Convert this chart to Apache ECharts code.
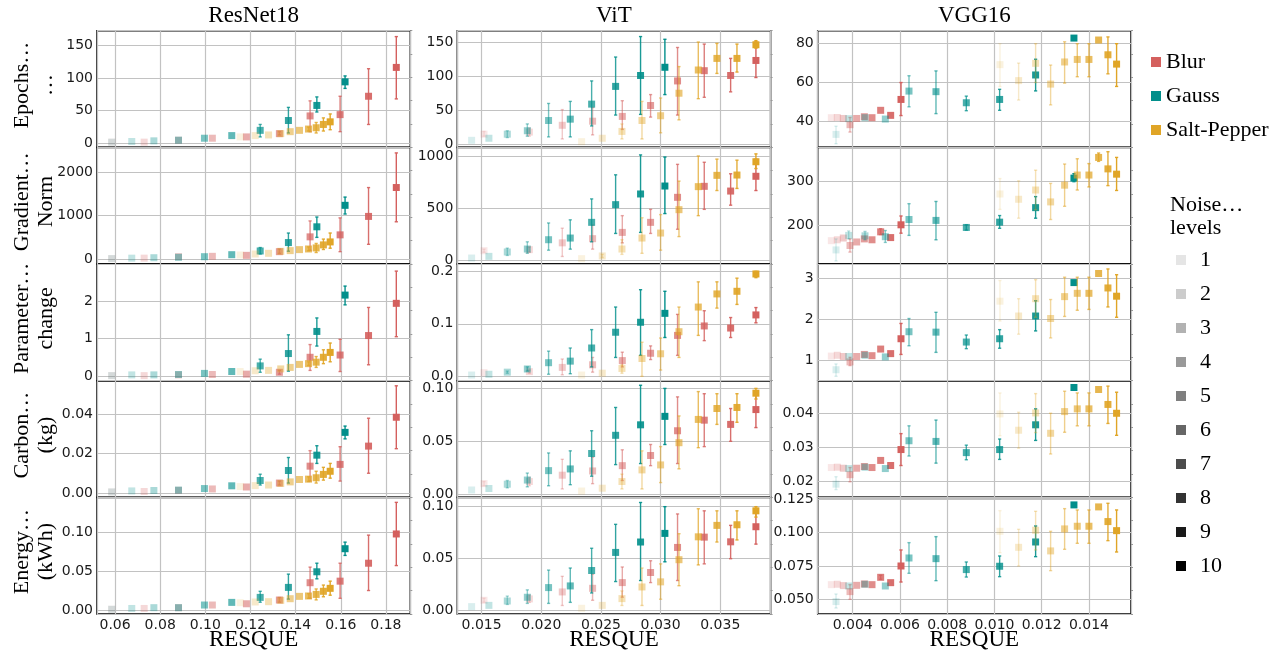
<!DOCTYPE html>
<html>
<head>
<meta charset="utf-8">
<title>RESQUE vs training cost</title>
<script src="https://cdn.jsdelivr.net/npm/echarts@6/dist/echarts.min.js"></script>
<style>
  html, body { margin: 0; padding: 0; background: #fff; }
  #chart { width: 1286px; height: 656px; }
</style>
</head>
<body>
<div id="chart"></div>
<script>
// labels
const models = ["ResNet18", "ViT", "VGG16"];
const metrics = ["Epochs…\n…", "Gradient…\nNorm", "Parameter…\nchange", "Carbon…\n(kg)", "Energy…\n(kWh)"];
const noiseTypes = ["Blur", "Gauss", "Salt-Pepper"];
const noiseLevels = ["1", "2", "3", "4", "5", "6", "7", "8", "9", "10"];

// RESQUE (x) per model and noise type, ordered by noise level 1..10
const rnXBlur = [0.0585, 0.0729, 0.0881, 0.1031, 0.1182, 0.1328, 0.1464, 0.1597, 0.1723, 0.1846];
const rnXGauss = [0.0585, 0.0674, 0.0772, 0.0881, 0.0996, 0.1117, 0.1243, 0.1368, 0.1494, 0.1619];
const rnXSalt = [0.1154, 0.1221, 0.128, 0.1334, 0.1376, 0.1417, 0.1457, 0.1491, 0.1523, 0.1553];
const vtXBlur = [0.0152, 0.019, 0.02176, 0.0243, 0.02679, 0.02916, 0.03142, 0.03366, 0.03587, 0.03799];
const vtXGauss = [0.01416, 0.01561, 0.01715, 0.01883, 0.02061, 0.02243, 0.02422, 0.02623, 0.02832, 0.03036];
const vtXSalt = [0.02338, 0.02511, 0.02676, 0.02844, 0.03, 0.03154, 0.03316, 0.03472, 0.0364, 0.03799];
const vgXBlur = [0.003097, 0.003351, 0.003605, 0.003887, 0.004169, 0.004494, 0.004818, 0.005185, 0.005608, 0.006045];
const vgXGauss = [0.003295, 0.003831, 0.004522, 0.005382, 0.006384, 0.007526, 0.00881, 0.01022, 0.011743, 0.013365];
const vgXSalt = [0.010234, 0.011024, 0.011743, 0.012378, 0.01297, 0.013506, 0.014, 0.014409, 0.014804, 0.01517];

// metric values: [mean, low, high]  (low/high omitted when no visible bar)
// ResNet18
const rnEpochsBlur = [[2], [2], [5], [8], [10], [15, 13, 18], [42, 18, 65], [44, 18, 72], [72, 29, 114], [116, 68, 163]];
const rnEpochsGauss = [[2], [3], [4], [5], [8], [12], [20, 10, 29], [35, 16, 55], [58, 48, 71], [94, 84, 103]];
const rnEpochsSalt = [[10], [12], [13], [15], [18], [20], [22, 19, 25], [24, 16, 32], [29, 19, 39], [33, 21, 45]];
const rnGradBlur = [[10], [20], [55], [62], [85], [170, 130, 230], [512, 200, 880], [558, 170, 950], [984, 340, 1650], [1651, 860, 2450]];
const rnGradGauss = [[10], [20], [30], [40], [54], [100], [186, 116, 265], [380, 180, 600], [744, 500, 970], [1240, 1040, 1430]];
const rnGradSalt = [[93], [116], [132], [178], [194], [217], [232, 190, 280], [256, 150, 360], [326, 220, 460], [395, 250, 600]];
const rnParamBlur = [[0.01], [0.01], [0.03], [0.04], [0.05], [0.1, 0.05, 0.15], [0.5, 0.15, 0.84], [0.56, 0.12, 0.98], [1.08, 0.3, 1.83], [1.94, 1.05, 2.8]];
const rnParamGauss = [[0.01], [0.03], [0.03], [0.04], [0.07], [0.12], [0.27, 0.1, 0.45], [0.6, 0.13, 1.1], [1.19, 0.8, 1.55], [2.16, 1.9, 2.4]];
const rnParamSalt = [[0.12], [0.14], [0.15], [0.19], [0.23], [0.31], [0.33, 0.28, 0.38], [0.37, 0.23, 0.52], [0.5, 0.33, 0.7], [0.63, 0.38, 0.88]];
const rnCarbonBlur = [[0.0005], [0.0007], [0.0013], [0.002], [0.003], [0.005, 0.004, 0.006], [0.0136, 0.006, 0.0215], [0.0145, 0.006, 0.0235], [0.0238, 0.01, 0.038], [0.0385, 0.0225, 0.0545]];
const rnCarbonGauss = [[0.0005], [0.001], [0.0012], [0.0014], [0.0022], [0.0036], [0.0063, 0.004, 0.0095], [0.0114, 0.005, 0.018], [0.0192, 0.015, 0.024], [0.0308, 0.0275, 0.034]];
const rnCarbonSalt = [[0.0032], [0.0037], [0.004], [0.0048], [0.0056], [0.0068], [0.007, 0.0058, 0.0082], [0.0077, 0.005, 0.011], [0.0094, 0.0065, 0.013], [0.011, 0.0075, 0.015]];
const rnEnergyBlur = [[0.001], [0.002], [0.003], [0.0064], [0.008], [0.0128, 0.01, 0.016], [0.035, 0.015, 0.055], [0.037, 0.015, 0.06], [0.06, 0.025, 0.096], [0.0975, 0.057, 0.138]];
const rnEnergyGauss = [[0.001], [0.002], [0.003], [0.003], [0.0064], [0.0098], [0.0162, 0.01, 0.024], [0.029, 0.014, 0.046], [0.049, 0.04, 0.06], [0.0786, 0.07, 0.087]];
const rnEnergySalt = [[0.0094], [0.0103], [0.0107], [0.0124], [0.0145], [0.0175], [0.018, 0.015, 0.021], [0.02, 0.013, 0.027], [0.024, 0.017, 0.032], [0.0278, 0.019, 0.037]];
// ViT
const vtEpochsBlur = [[15, 12, 19], [18, 12, 24], [28, 8, 51], [34, 14, 54], [41, 22, 64], [57, 40, 73], [93, 43, 142], [108, 69, 147], [101, 77, 126], [123, 98, 150]];
const vtEpochsGauss = [[6], [9], [15, 10, 20], [20, 12, 30], [35, 11, 60], [37, 11, 63], [59, 27, 93], [85, 43, 128], [101, 44, 158], [113, 73, 154]];
const vtEpochsSalt = [[4], [9], [19, 8, 30], [35, 8, 63], [42, 17, 68], [75, 36, 114], [109, 67, 150], [126, 104, 148], [126, 106, 147], [146, 141, 152]];
const vtGradBlur = [[95, 80, 110], [105, 80, 130], [170, 40, 310], [210, 110, 340], [270, 170, 430], [366, 260, 490], [605, 300, 920], [710, 490, 940], [665, 530, 830], [806, 670, 970]];
const vtGradGauss = [[25], [41], [83, 50, 120], [111, 70, 180], [200, 100, 360], [216, 110, 390], [366, 180, 590], [535, 260, 820], [637, 270, 1010], [713, 450, 990]];
const vtGradSalt = [[19], [45, 30, 60], [111, 60, 200], [216, 70, 410], [264, 100, 440], [487, 230, 760], [707, 430, 1000], [815, 670, 970], [818, 690, 960], [945, 880, 1020]];
const vtParamBlur = [[0.007], [0.009, 0.006, 0.012], [0.017, 0.003, 0.033], [0.022, 0.008, 0.036], [0.03, 0.018, 0.046], [0.044, 0.032, 0.058], [0.078, 0.04, 0.118], [0.096, 0.068, 0.125], [0.092, 0.074, 0.112], [0.117, 0.102, 0.131]];
const vtParamGauss = [[0.0025], [0.004], [0.008, 0.006, 0.01], [0.014, 0.01, 0.018], [0.026, 0.004, 0.048], [0.029, 0.005, 0.054], [0.054, 0.018, 0.089], [0.084, 0.036, 0.132], [0.103, 0.04, 0.165], [0.12, 0.074, 0.162]];
const vtParamSalt = [[0.0025], [0.006], [0.015, 0.006, 0.022], [0.034, 0.0, 0.065], [0.043, 0.012, 0.073], [0.085, 0.036, 0.132], [0.132, 0.078, 0.18], [0.157, 0.13, 0.18], [0.162, 0.137, 0.187], [0.195, 0.188, 0.2]];
const vtCarbonBlur = [[0.01, 0.008, 0.012], [0.012, 0.008, 0.016], [0.018, 0.005, 0.033], [0.022, 0.01, 0.035], [0.027, 0.013, 0.042], [0.0366, 0.027, 0.047], [0.06, 0.029, 0.092], [0.07, 0.045, 0.095], [0.066, 0.05, 0.081], [0.08, 0.063, 0.095]];
const vtCarbonGauss = [[0.004], [0.0054], [0.0095, 0.006, 0.013], [0.0134, 0.007, 0.02], [0.0223, 0.008, 0.039], [0.0239, 0.009, 0.041], [0.0385, 0.017, 0.06], [0.0557, 0.028, 0.082], [0.0656, 0.029, 0.103], [0.0736, 0.047, 0.1]];
const vtCarbonSalt = [[0.003], [0.0057], [0.012, 0.005, 0.019], [0.023, 0.005, 0.041], [0.0277, 0.011, 0.045], [0.0487, 0.024, 0.074], [0.0707, 0.044, 0.097], [0.081, 0.066, 0.095], [0.082, 0.068, 0.095], [0.0955, 0.09, 0.1]];
const vtEnergyBlur = [[0.01, 0.008, 0.012], [0.0113, 0.008, 0.015], [0.018, 0.005, 0.033], [0.0215, 0.01, 0.035], [0.027, 0.013, 0.042], [0.0367, 0.027, 0.048], [0.0608, 0.029, 0.093], [0.0707, 0.045, 0.096], [0.0662, 0.05, 0.082], [0.0807, 0.064, 0.096]];
const vtEnergyGauss = [[0.0039], [0.0051], [0.0093, 0.006, 0.014], [0.0129, 0.007, 0.02], [0.0222, 0.007, 0.039], [0.0238, 0.008, 0.041], [0.0386, 0.017, 0.06], [0.056, 0.028, 0.083], [0.066, 0.029, 0.104], [0.0743, 0.047, 0.1]];
const vtEnergySalt = [[0.0023], [0.0051], [0.0116, 0.005, 0.019], [0.0228, 0.005, 0.041], [0.0277, 0.011, 0.045], [0.049, 0.024, 0.074], [0.071, 0.044, 0.098], [0.082, 0.066, 0.096], [0.0826, 0.068, 0.096], [0.096, 0.09, 0.1]];
// VGG16
const vgEpochsBlur = [[41.9], [42], [41.5], [38.3, 34.5, 42], [41.5], [42.4], [41.9], [45.7], [43.1], [51.3, 43, 60]];
const vgEpochsGauss = [[33.3, 28.5, 37.5], [41.4], [41.9], [41.2], [55.6, 47.5, 63.5], [55.3, 44, 66], [49.6, 45.5, 53], [51.3, 45.7, 56.5], [63.9, 55.7, 72], [82.9]];
const vgEpochsSalt = [[69.2, 58, 80], [61, 51, 70], [69.9, 60, 80], [59.2, 48.5, 69], [70.6, 59.7, 81], [71.9, 63, 80], [71.9, 63, 80], [81.9], [74.3, 64.5, 83.5], [69.5, 58, 80]];
const vgGradBlur = [[166], [168], [172], [155, 140, 170], [163], [170], [168], [186, 180, 193], [173], [202, 183, 222]];
const vgGradGauss = [[145, 120, 170], [178, 170, 188], [177, 168, 187], [175, 162, 189], [214, 178, 250], [212, 168, 255], [196, 190, 202], [208, 194, 223], [241, 217, 266], [308, 300, 318]];
const vgGradSalt = [[272, 237, 307], [260, 217, 302], [281, 236, 326], [254, 214, 296], [292, 244, 340], [315, 281, 352], [315, 288, 341], [355, 346, 365], [329, 291, 368], [317, 280, 355]];
const vgParamBlur = [[1.11], [1.13], [1.1], [0.97, 0.88, 1.08], [1.1], [1.15], [1.12], [1.28], [1.17], [1.53, 1.15, 1.9]];
const vgParamGauss = [[0.78, 0.62, 0.92], [1.1], [1.13], [1.09], [1.7, 1.36, 2.02], [1.69, 1.2, 2.17], [1.45, 1.29, 1.62], [1.53, 1.3, 1.75], [2.08, 1.72, 2.45], [2.89]];
const vgParamSalt = [[2.44, 1.96, 2.94], [2.08, 1.64, 2.5], [2.5, 2.05, 2.96], [2.02, 1.55, 2.48], [2.55, 2.07, 3.02], [2.63, 2.22, 3.02], [2.63, 2.24, 3.02], [3.11], [2.76, 2.3, 3.22], [2.56, 2.05, 3.08]];
const vgCarbonBlur = [[0.024], [0.0241], [0.0238], [0.0219, 0.0198, 0.024], [0.0238], [0.0243], [0.024], [0.0261], [0.0246], [0.0293, 0.0246, 0.034]];
const vgCarbonGauss = [[0.0191, 0.0175, 0.0213], [0.0237], [0.0241], [0.0237], [0.0319, 0.0274, 0.0363], [0.0317, 0.0253, 0.038], [0.0284, 0.0263, 0.0306], [0.0293, 0.0264, 0.0324], [0.0366, 0.032, 0.0413], [0.0476]];
const vgCarbonSalt = [[0.0398, 0.0334, 0.046], [0.035, 0.0297, 0.0403], [0.0401, 0.0343, 0.0458], [0.0341, 0.028, 0.04], [0.0405, 0.0344, 0.0465], [0.0413, 0.0363, 0.046], [0.0413, 0.0363, 0.046], [0.047], [0.0426, 0.037, 0.048], [0.04, 0.0335, 0.0462]];
const vgEnergyBlur = [[0.061], [0.0613], [0.0603], [0.0558, 0.05, 0.061], [0.0605], [0.0615], [0.061], [0.0665, 0.065, 0.068], [0.0625], [0.075, 0.063, 0.087]];
const vgEnergyGauss = [[0.0483, 0.0435, 0.054], [0.06], [0.0613], [0.06], [0.081, 0.0695, 0.0925], [0.0805, 0.064, 0.097], [0.0723, 0.0667, 0.078], [0.0748, 0.067, 0.0825], [0.093, 0.082, 0.105], [0.1208]];
const vgEnergySalt = [[0.101, 0.085, 0.1165], [0.089, 0.075, 0.1025], [0.1018, 0.087, 0.116], [0.0863, 0.0715, 0.101], [0.1028, 0.0875, 0.118], [0.1048, 0.092, 0.117], [0.1048, 0.092, 0.117], [0.1193], [0.1083, 0.094, 0.122], [0.1015, 0.0855, 0.117]];

// axis ticks: step between tick labels and decimals shown
const xTickStep = [0.02, 0.005, 0.002];
const xTickDecimals = [2, 3, 3];
const yTickStep = [[50, 1000, 1, 0.02, 0.05], [50, 500, 0.1, 0.05, 0.05], [20, 100, 1, 0.01, 0.025]];
const yTickDecimals = [[0, 0, 0, 2, 2], [0, 0, 1, 2, 2], [0, 0, 0, 2, 3]];

// axis extents
const xRange = [[0.052, 0.1908], [0.01296, 0.03922], [0.00252, 0.01578]];
const yRange = [
  [[-6, 172], [-115, 2580], [-0.125, 2.99], [-0.0023, 0.0571], [-0.0051, 0.1445]],
  [[-4.4, 166.6], [-32, 1083], [-0.0083, 0.214], [-0.003, 0.1073], [-0.0032, 0.109]],
  [[26.6, 86.7], [113, 378], [0.514, 3.34], [0.0152, 0.0496], [0.039, 0.1265]]
];

const xByModel = [[rnXBlur, rnXGauss, rnXSalt], [vtXBlur, vtXGauss, vtXSalt], [vgXBlur, vgXGauss, vgXSalt]];
const yByModel = [
  [[rnEpochsBlur, rnEpochsGauss, rnEpochsSalt], [rnGradBlur, rnGradGauss, rnGradSalt], [rnParamBlur, rnParamGauss, rnParamSalt], [rnCarbonBlur, rnCarbonGauss, rnCarbonSalt], [rnEnergyBlur, rnEnergyGauss, rnEnergySalt]],
  [[vtEpochsBlur, vtEpochsGauss, vtEpochsSalt], [vtGradBlur, vtGradGauss, vtGradSalt], [vtParamBlur, vtParamGauss, vtParamSalt], [vtCarbonBlur, vtCarbonGauss, vtCarbonSalt], [vtEnergyBlur, vtEnergyGauss, vtEnergySalt]],
  [[vgEpochsBlur, vgEpochsGauss, vgEpochsSalt], [vgGradBlur, vgGradGauss, vgGradSalt], [vgParamBlur, vgParamGauss, vgParamSalt], [vgCarbonBlur, vgCarbonGauss, vgCarbonSalt], [vgEnergyBlur, vgEnergyGauss, vgEnergySalt]]
];

const noiseColors = ["#d4605e", "#028f8b", "#e0a526"];
const SERIF = "'Liberation Serif', 'Times New Roman', serif";
const SANS = "'DejaVu Sans', sans-serif";

// panel layout (px)
const colLeft = [97, 457.3, 817.7];
const colWidth = 313.3;
const rowTop = [30.7, 147.3, 264, 380.7, 497.3];
const rowHeight = 116.7;

const levelAlpha = lv => 0.15 + 0.85 * (lv - 1) / 9;

// error bar + square marker
const renderPoint = (params, api) => {
  const x = api.value(0);
  const y = api.value(1);
  const lo = api.value(2);
  const hi = api.value(3);
  const alpha = levelAlpha(api.value(4));
  const color = api.visual("color");
  const p = api.coord([x, y]);
  const kids = [];
  if (hi > lo) {
    const top = api.coord([x, hi])[1];
    const bot = api.coord([x, lo])[1];
    const lineStyle = { stroke: color, lineWidth: 1.4, opacity: alpha };
    kids.push({ type: "line", shape: { x1: p[0], y1: top, x2: p[0], y2: bot }, style: lineStyle });
    kids.push({ type: "line", shape: { x1: p[0] - 1.6, y1: top, x2: p[0] + 1.6, y2: top }, style: lineStyle });
    kids.push({ type: "line", shape: { x1: p[0] - 1.6, y1: bot, x2: p[0] + 1.6, y2: bot }, style: lineStyle });
  }
  kids.push({
    type: "rect",
    shape: { x: p[0] - 3.5, y: p[1] - 3.5, width: 7, height: 7 },
    style: { fill: color, opacity: alpha }
  });
  return { type: "group", children: kids };
};

const grids = [];
const xAxes = [];
const yAxes = [];
const rightAxes = [];
const series = [];

for (let c = 0; c < 3; c++) {
  for (let r = 0; r < 5; r++) {
    const idx = c * 5 + r;
    grids.push({
      left: colLeft[c],
      top: rowTop[r],
      width: colWidth,
      height: rowHeight,
      show: true,
      borderColor: "#000",
      borderWidth: 1.5,
      backgroundColor: "transparent"
    });
    xAxes.push({
      type: "value",
      gridIndex: idx,
      min: xRange[c][0],
      max: xRange[c][1],
      minInterval: xTickStep[c],
      maxInterval: xTickStep[c],
      axisLine: { show: false },
      axisTick: { show: false },
      splitLine: { show: true, lineStyle: { color: "#c2c2c2", width: 1.2 } },
      axisLabel: {
        show: r === 4,
        showMinLabel: false,
        showMaxLabel: false,
        margin: 4,
        fontFamily: SANS,
        fontSize: 14,
        color: "#1a1a1a",
        formatter: v => v.toFixed(xTickDecimals[c])
      }
    });
    yAxes.push({
      type: "value",
      gridIndex: idx,
      min: yRange[c][r][0],
      max: yRange[c][r][1],
      minInterval: yTickStep[c][r],
      maxInterval: yTickStep[c][r],
      axisLine: { show: false },
      axisTick: { show: false },
      splitLine: { show: true, lineStyle: { color: "#c2c2c2", width: 1.2 } },
      axisLabel: {
        showMinLabel: false,
        showMaxLabel: false,
        margin: 4,
        fontFamily: SANS,
        fontSize: 14,
        color: "#1a1a1a",
        formatter: v => v.toFixed(yTickDecimals[c][r])
      }
    });
    // faint outer ticks on the right edge
    rightAxes.push({
      type: "value",
      gridIndex: idx,
      position: "right",
      min: 0,
      max: 5,
      interval: 1,
      axisLine: { show: false },
      axisLabel: { show: false },
      splitLine: { show: false },
      axisTick: { show: true, length: 2, lineStyle: { color: "#999", width: 1 } }
    });

    for (let n = 0; n < 3; n++) {
      const xs = xByModel[c][n];
      const ys = yByModel[c][r][n];
      series.push({
        type: "custom",
        name: noiseTypes[n],
        xAxisIndex: idx,
        yAxisIndex: idx,
        silent: true,
        itemStyle: { color: noiseColors[n] },
        encode: { x: 0, y: 1 },
        renderItem: renderPoint,
        data: ys.map((p, i) => [xs[i], p[0], p[1] ?? p[0], p[2] ?? p[0], i + 1])
      });
    }
  }
}

// empty series feeding the noise level legend
noiseLevels.forEach((lv, i) => {
  series.push({
    type: "scatter",
    name: lv,
    xAxisIndex: 0,
    yAxisIndex: 0,
    data: [],
    itemStyle: { color: `rgba(0,0,0,${(i + 1) / 10})`, opacity: 1 }
  });
});

const graphic = [];
models.forEach((m, c) => {
  graphic.push({
    type: "text",
    x: colLeft[c] + colWidth / 2,
    y: 16,
    style: { text: m, fontFamily: SERIF, fontSize: 23, fill: "#000", textAlign: "center", textVerticalAlign: "middle" }
  });
  graphic.push({
    type: "text",
    x: colLeft[c] + colWidth / 2,
    y: 640,
    style: { text: "RESQUE", fontFamily: SERIF, fontSize: 23, fill: "#000", textAlign: "center", textVerticalAlign: "middle" }
  });
});
metrics.forEach((t, r) => {
  graphic.push({
    type: "text",
    x: 34,
    y: rowTop[r] + rowHeight / 2 - 4,
    rotation: Math.PI / 2,
    style: { text: t, fontFamily: SERIF, fontSize: 22, lineHeight: 24, fill: "#000", textAlign: "center", textVerticalAlign: "middle" }
  });
});
graphic.push({
  type: "text",
  x: 1170,
  y: 217,
  style: { text: "Noise…\nlevels", fontFamily: SERIF, fontSize: 22, lineHeight: 23, fill: "#000", textAlign: "left", textVerticalAlign: "middle" }
});

const option = {
  animation: false,
  backgroundColor: "#fff",
  grid: grids,
  xAxis: xAxes,
  yAxis: yAxes.concat(rightAxes),
  legend: [
    {
      data: noiseTypes,
      orient: "vertical",
      left: 1146,
      top: 46,
      icon: "rect",
      itemWidth: 10,
      itemHeight: 10,
      itemGap: 12,
      selectedMode: false,
      textStyle: { fontFamily: SERIF, fontSize: 22, color: "#000" }
    },
    {
      data: noiseLevels,
      orient: "vertical",
      left: 1171,
      top: 244,
      icon: "rect",
      itemWidth: 10,
      itemHeight: 10,
      itemGap: 12,
      selectedMode: false,
      textStyle: { fontFamily: SERIF, fontSize: 22, color: "#000", padding: [0, 0, 0, 9] }
    }
  ],
  graphic: graphic,
  series: series
};

const chart = echarts.init(document.getElementById("chart"));
chart.setOption(option);
</script>
</body>
</html>
